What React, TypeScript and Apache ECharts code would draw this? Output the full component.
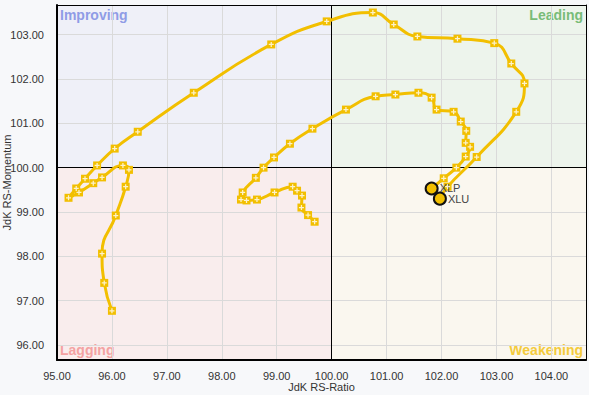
import React, { useEffect, useRef } from 'react';
import * as echarts from 'echarts';

const X_MIN = 95;
const X_MAX = 104.63;
const Y_MIN = 95.66;
const Y_MAX = 103.67;
const CENTER = 100;

const xluRatio = [96.00, 95.86, 95.82, 96.07, 96.25, 96.31, 96.20, 95.82, 95.66, 95.40, 95.21, 95.35, 95.51, 95.73, 96.05, 96.47, 97.49, 98.90, 99.91, 100.75, 101.13, 101.56, 102.29, 102.96, 103.27, 103.51, 103.36, 102.64, 102.11, 101.97];
const xluMomentum = [96.77, 97.40, 98.06, 98.92, 99.57, 99.95, 100.05, 99.78, 99.65, 99.44, 99.32, 99.53, 99.75, 100.05, 100.43, 100.81, 101.69, 102.78, 103.30, 103.50, 103.23, 102.96, 102.91, 102.81, 102.35, 101.90, 101.26, 100.24, 99.57, 99.30];

const xlpRatio = [99.69, 99.57, 99.45, 99.46, 99.37, 99.29, 98.96, 98.64, 98.45, 98.35, 98.38, 98.62, 98.76, 98.95, 99.24, 99.65, 100.26, 100.80, 101.16, 101.58, 101.82, 101.91, 102.22, 102.35, 102.45, 102.44, 102.52, 102.44, 102.27, 102.04, 101.82];
const xlpMomentum = [98.78, 98.93, 99.10, 99.37, 99.48, 99.57, 99.44, 99.28, 99.26, 99.28, 99.44, 99.77, 100.00, 100.23, 100.54, 100.88, 101.31, 101.61, 101.65, 101.69, 101.58, 101.31, 101.26, 101.04, 100.83, 100.56, 100.47, 100.25, 100.00, 99.76, 99.53];

const quadrantNames = ['Improving', 'Leading', 'Lagging', 'Weakening'];
const xAxisName = 'JdK RS-Ratio';
const yAxisName = 'JdK RS-Momentum';

const GOLD = '#f2bf00';
const FONT = "'Liberation Sans', Arial, sans-serif";
const PLUS = 'path://M3,0L5,0L5,3L8,3L8,5L5,5L5,8L3,8L3,5L0,5L0,3L3,3Z';

const fmt = (v: number) => (Math.abs(v - Math.round(v)) < 1e-6 ? v.toFixed(2) : '');

function trail(name: string, xs: number[], ys: number[]) {
  const n = xs.length;
  return {
    type: 'line',
    name,
    z: 5,
    smooth: 0.5,
    showAllSymbol: true,
    lineStyle: { color: GOLD, width: 3 },
    itemStyle: { color: GOLD, borderWidth: 0 },
    data: xs.map((x, i) =>
      i < n - 1
        ? { value: [x, ys[i]], symbol: 'rect', symbolSize: 8 }
        : {
            value: [x, ys[i]],
            symbol: 'circle',
            symbolSize: 12,
            itemStyle: { color: GOLD, borderColor: '#111', borderWidth: 2 },
            label: {
              show: true,
              position: 'right',
              distance: 1,
              formatter: name,
              color: '#444',
              fontSize: 11,
              lineHeight: 10,
              fontFamily: FONT,
            },
          }
    ),
  };
}

function crosses(xs: number[], ys: number[]) {
  return {
    type: 'scatter',
    z: 6,
    silent: true,
    symbol: PLUS,
    symbolSize: 5,
    itemStyle: { color: '#ffffff' },
    data: xs.slice(0, xs.length - 1).map((x, i) => [x, ys[i]]),
  };
}

export default function App() {
  const ref = useRef<HTMLDivElement>(null);
  useEffect(() => {
    const chart = echarts.init(ref.current!, null, { renderer: 'svg' });
    const qLabel = (color: string, position: string) => ({
      show: true,
      position,
      distance: 3,
      color,
      fontSize: 14,
      fontWeight: 'bold',
      fontFamily: FONT,
    });
    chart.setOption({
      animation: false,
      backgroundColor: '#f7f8fa',
      textStyle: { fontFamily: FONT },
      grid: { left: 57, right: 3, top: 5, bottom: 35, containLabel: false, outerBoundsMode: 'none' },
      graphic: [
        {
          type: 'text',
          x: 7,
          y: 182.5,
          rotation: Math.PI / 2,
          style: {
            text: yAxisName,
            fill: '#333',
            font: "11px 'Liberation Sans', Arial, sans-serif",
            align: 'center',
            verticalAlign: 'middle',
          },
        },
      ],
      xAxis: [
        {
          type: 'value',
          min: X_MIN,
          max: X_MAX,
          interval: 1,
          z: 2,
          axisLine: { show: true, onZero: false, lineStyle: { color: '#000', width: 2 } },
          axisTick: { show: false },
          splitLine: { show: true, lineStyle: { color: '#dadada', width: 1 } },
          axisLabel: { formatter: fmt, color: '#333', fontSize: 11, margin: 10 },
          name: xAxisName,
          nameLocation: 'middle',
          nameGap: 21,
          nameMoveOverlap: false,
          nameTextStyle: { color: '#333', fontSize: 11 },
        },
        {
          type: 'value',
          position: 'top',
          min: X_MIN,
          max: X_MAX,
          interval: 1,
          z: 2,
          axisLine: { show: true, onZero: false, lineStyle: { color: '#000', width: 1 } },
          axisTick: { show: false },
          splitLine: { show: false },
          axisLabel: { show: false },
        },
      ],
      yAxis: [
        {
          type: 'value',
          min: Y_MIN,
          max: Y_MAX,
          splitNumber: 8,
          z: 2,
          axisLine: { show: true, onZero: false, lineStyle: { color: '#000', width: 2 } },
          axisTick: { show: false },
          splitLine: { show: true, lineStyle: { color: '#dadada', width: 1 } },
          axisLabel: { formatter: fmt, color: '#333', fontSize: 11, margin: 13 },
        },
        {
          type: 'value',
          position: 'right',
          min: Y_MIN,
          max: Y_MAX,
          splitNumber: 8,
          z: 2,
          axisLine: { show: true, onZero: false, lineStyle: { color: '#000', width: 1 } },
          axisTick: { show: false },
          splitLine: { show: false },
          axisLabel: { show: false },
        },
      ],
      series: [
        {
          type: 'scatter',
          z: 1,
          data: [],
          markArea: {
            silent: true,
            z: 1,
            data: [
              [
                { coord: [X_MIN, CENTER], itemStyle: { color: '#eff0f8' }, label: qLabel('#8f9ce6', 'insideTopLeft'), name: quadrantNames[0] },
                { coord: [CENTER, Y_MAX] },
              ],
              [
                { coord: [CENTER, CENTER], itemStyle: { color: '#edf4ec' }, label: qLabel('#78bc78', 'insideTopRight'), name: quadrantNames[1] },
                { coord: [X_MAX, Y_MAX] },
              ],
              [
                { coord: [X_MIN, Y_MIN], itemStyle: { color: '#f9eded' }, label: qLabel('#f4a2a2', 'insideBottomLeft'), name: quadrantNames[2] },
                { coord: [CENTER, CENTER] },
              ],
              [
                { coord: [CENTER, Y_MIN], itemStyle: { color: '#faf7ef' }, label: qLabel('#f4cb3c', 'insideBottomRight'), name: quadrantNames[3] },
                { coord: [X_MAX, CENTER] },
              ],
            ],
          },
        },
        {
          type: 'scatter',
          z: 3,
          data: [],
          markLine: {
            silent: true,
            symbol: 'none',
            label: { show: false },
            lineStyle: { color: '#000', width: 1, type: 'solid' },
            data: [{ xAxis: CENTER }, { yAxis: CENTER }],
          },
        },
        trail('XLU', xluRatio, xluMomentum),
        trail('XLP', xlpRatio, xlpMomentum),
        crosses(xluRatio, xluMomentum),
        crosses(xlpRatio, xlpMomentum),
      ],
    });
    return () => chart.dispose();
  }, []);
  return (
    <div
      ref={ref}
      style={{ position: 'fixed', left: 0, top: 0, width: 589, height: 395 }}
    />
  );
}
